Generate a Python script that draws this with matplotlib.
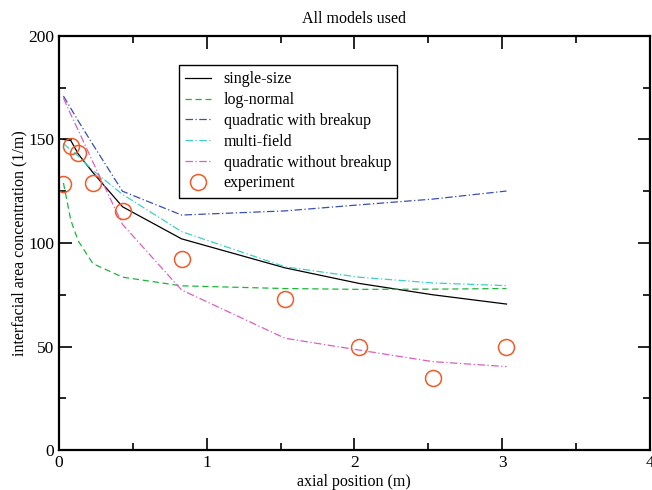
import matplotlib
matplotlib.use("Agg")
import matplotlib.pyplot as plt
from matplotlib.ticker import MultipleLocator

# data
x_model = [0.03, 0.08, 0.13, 0.23, 0.43, 0.83, 1.53, 2.03, 2.53, 3.03]
single_size = [150, 149.5, 143, 134, 117.5, 102, 88, 80.5, 75, 70.5]
log_normal = [129, 111, 101, 90, 83.5, 79.3, 78, 77.6, 77.7, 78]
quad_breakup = [171, 165, 159, 147.5, 125, 113.5, 115.5, 118.4, 121.2, 125.1]
multi_field = [148, 145, 142, 135, 123.5, 105.5, 88.5, 83.5, 80.7, 79.4]
quad_no_breakup = [170, 162, 154.5, 139, 109, 77.3, 54, 48.3, 42.7, 40.3]

x_exp = [0.03, 0.08, 0.13, 0.23, 0.43, 0.83, 1.53, 2.03, 2.53, 3.03]
y_exp = [128.5, 147, 143.5, 129, 115.5, 92.3, 73, 49.8, 34.8, 49.8]

plt.rcParams['font.family'] = ['Liberation Serif', 'DejaVu Serif']

fig = plt.figure(figsize=(6.52, 4.9), dpi=100)
ax = fig.add_axes([0.0905, 0.0816, 0.906, 0.845])

lw = 0.9
ax.plot(x_model, single_size, color='black', lw=lw, label='single-size')
ax.plot(x_model, log_normal, color='#1fb53c', lw=lw, dashes=(5, 3), label='log-normal')
ax.plot(x_model, quad_breakup, color='#3a4fb0', lw=lw, dashes=(6, 2, 1, 2), label='quadratic with breakup')
ax.plot(x_model, multi_field, color='#3cd0c8', lw=lw, dashes=(6, 2, 1, 2), label='multi-field')
ax.plot(x_model, quad_no_breakup, color='#d860c0', lw=lw, dashes=(6, 2, 1, 2), label='quadratic without breakup')
ax.plot(x_exp, y_exp, 'o', mfc='none', mec='#f05a28', ms=11.5, mew=1.1, label='experiment')

ax.set_xlim(0, 4)
ax.set_ylim(0, 200)
ax.xaxis.set_major_locator(MultipleLocator(1))
ax.xaxis.set_minor_locator(MultipleLocator(0.5))
ax.yaxis.set_major_locator(MultipleLocator(50))
ax.yaxis.set_minor_locator(MultipleLocator(25))
ax.tick_params(which='both', direction='in', top=True, right=True, labelsize=12.5, width=1.2)
ax.tick_params(which='major', length=9)
ax.tick_params(which='minor', length=5)
for s in ax.spines.values():
    s.set_linewidth(1.6)

ax.set_xlabel('axial position (m)', fontsize=11.5, labelpad=2)
ax.set_ylabel('interfacial area concentration (1/m)', fontsize=11.5, labelpad=0.5)
ax.set_title('All models used', fontsize=11.5, pad=9)

leg = ax.legend(loc='upper left', bbox_to_anchor=(0.203, 0.93), borderaxespad=0, fontsize=11.5,
                fancybox=False, edgecolor='black', framealpha=1, handlelength=1.6,
                labelspacing=0.3, borderpad=0.4)
leg.get_frame().set_linewidth(1.0)

fig.savefig('out.png', dpi=100)
